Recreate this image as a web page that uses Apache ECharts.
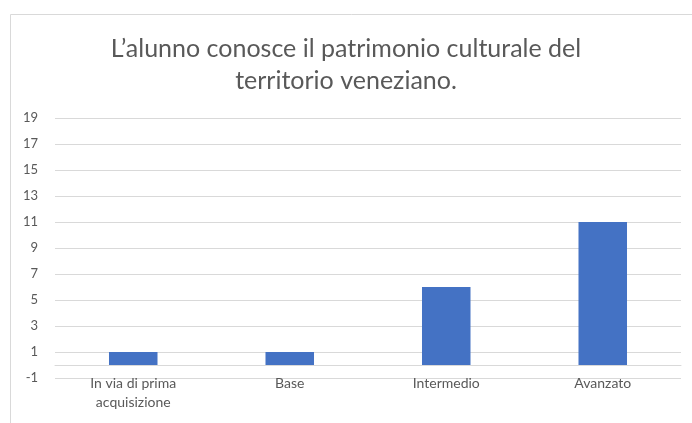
<!DOCTYPE html>
<html>
<head>
<meta charset="utf-8">
<script src="https://cdn.jsdelivr.net/npm/echarts@6/dist/echarts.min.js"></script>
<style>
  html, body { margin: 0; padding: 0; background: #fff; }
  #chart { width: 692px; height: 423px; }
</style>
</head>
<body>
<div id="chart"></div>
<script>
// data
const categories = ['In via di prima\nacquisizione', 'Base', 'Intermedio', 'Avanzato']
const values = [1, 1, 6, 11]
const titleText = 'L\u2019alunno conosce il patrimonio culturale del\nterritorio veneziano.'

const chart = echarts.init(document.getElementById('chart'))

const option = {
  animation: false,
  textStyle: { fontFamily: 'Lato' },
  graphic: [{
    type: 'rect',
    shape: { x: 10.5, y: 14.5, width: 700, height: 420 },
    style: { fill: 'none', stroke: '#d9d9d9', lineWidth: 1 },
    silent: true
  }],
  title: {
    text: titleText,
    left: 'center',
    top: 28,
    textStyle: {
      fontFamily: 'Lato',
      fontSize: 25,
      fontWeight: 'normal',
      color: '#595959',
      lineHeight: 32
    }
  },
  grid: {
    left: 55,
    right: 11,
    top: 118,
    bottom: 45
  },
  xAxis: {
    type: 'category',
    data: categories,
    axisLine: { onZero: true, lineStyle: { color: '#d9d9d9' } },
    axisTick: { show: false },
    axisLabel: {
      color: '#595959',
      fontSize: 14,
      margin: -4,
      lineHeight: 19,
      interval: 0
    }
  },
  yAxis: {
    type: 'value',
    min: -1,
    max: 19,
    interval: 2,
    axisLine: { show: false },
    axisTick: { show: false },
    axisLabel: { color: '#595959', fontSize: 13, margin: 17 },
    splitLine: { lineStyle: { color: '#d9d9d9' } }
  },
  series: [{
    type: 'bar',
    data: values,
    barWidth: '31%',
    itemStyle: { color: '#4472c4' }
  }]
}

chart.setOption(option)
</script>
</body>
</html>
